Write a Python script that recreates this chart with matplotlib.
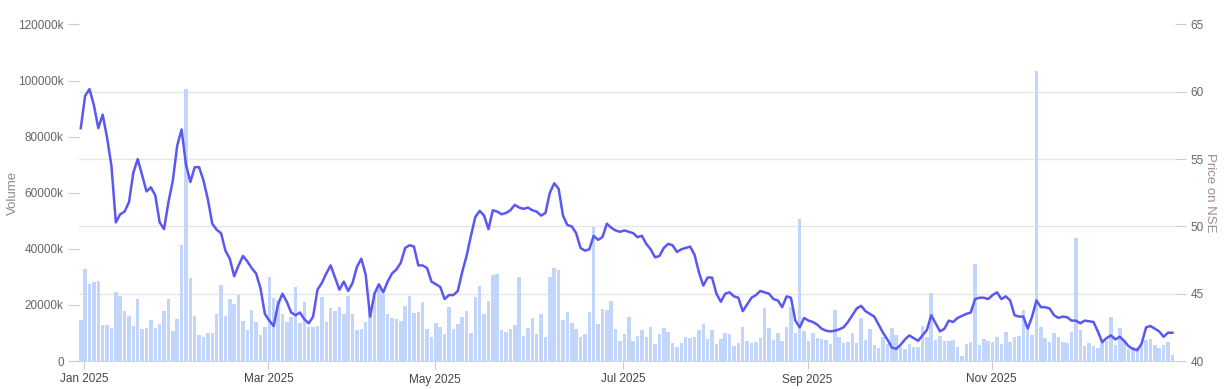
import matplotlib
matplotlib.use("Agg")
import matplotlib.pyplot as plt
import numpy as np

plt.rcParams['font.family'] = ['Liberation Sans', 'DejaVu Sans']

# daily volume in thousands (30 Dec 2024 .. 31 Dec 2025, NSE trading days)
volume_k = [
    14600, 32760, 27420, 28250, 28610, 12940, 12820, 11750, 24570, 23030,
    17690, 16020, 12580, 21960, 11280, 11750, 14480, 11750, 13180, 17800,
    22200, 10800, 14840, 41300, 96860, 29560, 15900, 9380, 8430, 9850,
    9850, 16740, 27060, 16140, 22200, 20180, 23500, 14360, 11040, 18040,
    13770, 9260, 11990, 29910, 22430, 21600, 16620, 13890, 15550, 26350,
    13410, 20890, 11990, 12110, 12460, 22670, 14010, 18750, 17690, 19230,
    16620, 23030, 16740, 11040, 11400, 13890, 17920, 24450, 27000, 23800,
    16740, 15190, 14960, 14240, 19700, 23300, 17090, 17450, 21200, 11570,
    8720, 13530, 12170, 9610, 19350, 11400, 13290, 15790, 17800, 9970,
    22790, 26710, 16740, 21480, 30510, 30980, 11040, 10330, 11510, 12820,
    29910, 8900, 11630, 15310, 9500, 16740, 8670, 30030, 33120, 32410,
    14720, 17330, 13410, 11510, 8430, 9610, 17330, 47700, 13290, 18520,
    18040, 21370, 11400, 7120, 9610, 15790, 7000, 8780, 10920, 8430,
    12110, 5940, 9730, 11630, 10210, 6410, 4990, 6410, 8670, 8070,
    8670, 11040, 13180, 7950, 11040, 6050, 7950, 10090, 9500, 5340,
    6410, 11990, 7120, 6530, 6770, 8190, 18990, 11630, 7360, 9970,
    7000, 11990, 19350, 9970, 50800, 10680, 7120, 10090, 8070, 7720,
    7360, 6050, 18160, 8430, 6530, 6770, 9970, 6410, 15430, 7360,
    11400, 5820, 4630, 8430, 6170, 11750, 9140, 5100, 4150, 6050,
    5100, 4990, 12460, 8670, 24100, 7480, 8780, 7120, 7120, 7360,
    4990, 1780, 6170, 6650, 34540, 5820, 7830, 7000, 6880, 8670,
    5940, 10210, 6770, 8550, 8900, 18160, 10920, 9260, 103300, 11990,
    8190, 6770, 9970, 8550, 6650, 6410, 10330, 44040, 11040, 5460,
    6410, 5460, 4630, 7240, 7120, 15790, 5700, 11750, 7240, 4270,
    4870, 4990, 6410, 7360, 7830, 5580, 4630, 5580, 6770, 2140,
]

# closing price on NSE
price = [
    57.3, 59.7, 60.2, 59.0, 57.3, 58.3, 56.6, 54.5, 50.3, 50.9,
    51.1, 51.8, 54.0, 55.0, 53.8, 52.6, 52.9, 52.3, 50.3, 49.8,
    51.8, 53.4, 56.0, 57.2, 54.6, 53.3, 54.4, 54.4, 53.4, 52.0,
    50.2, 49.75, 49.5, 48.2, 47.6, 46.3, 47.1, 47.8, 47.4, 46.9,
    46.5, 45.4, 43.5, 43.0, 42.6, 44.2, 45.0, 44.4, 43.6, 43.4,
    43.6, 43.1, 42.8, 43.3, 45.3, 45.8, 46.5, 47.1, 46.2, 45.3,
    45.9, 45.2, 45.8, 47.0, 47.6, 46.4, 43.3, 45.0, 45.7, 45.1,
    45.9, 46.5, 46.8, 47.3, 48.4, 48.6, 48.5, 47.1, 47.1, 46.9,
    45.9, 45.7, 45.5, 44.6, 44.9, 44.9, 45.2, 46.6, 47.8, 49.3,
    50.7, 51.15, 50.8, 49.8, 51.2, 51.1, 50.9, 51.0, 51.2, 51.6,
    51.4, 51.3, 51.4, 51.2, 51.1, 50.8, 51.0, 52.5, 53.2, 52.8,
    50.8, 50.1, 50.0, 49.5, 48.4, 48.2, 48.3, 49.3, 49.0, 49.2,
    50.2, 49.9, 49.7, 49.6, 49.7, 49.6, 49.5, 49.2, 49.3, 48.7,
    48.3, 47.7, 47.8, 48.4, 48.7, 48.6, 48.1, 48.3, 48.4, 48.5,
    47.9, 46.6, 45.6, 46.2, 46.2, 45.0, 44.4, 45.0, 45.1, 44.8,
    44.7, 43.7, 44.2, 44.7, 44.9, 45.2, 45.1, 45.0, 44.6, 44.5,
    44.0, 44.8, 44.7, 43.0, 42.5, 43.2, 43.0, 42.9, 42.7, 42.4,
    42.25, 42.2, 42.25, 42.35, 42.5, 42.9, 43.4, 43.9, 44.1, 43.7,
    43.5, 43.3, 42.7, 42.1, 41.6, 41.0, 40.9, 41.2, 41.6, 41.9,
    41.7, 41.5, 41.9, 42.3, 43.4, 42.8, 42.2, 42.4, 43.0, 42.9,
    43.2, 43.35, 43.5, 43.6, 44.6, 44.7, 44.7, 44.6, 44.9, 45.1,
    44.6, 44.8, 44.5, 43.4, 43.3, 43.3, 42.4, 43.3, 44.5, 44.0,
    44.0, 43.9, 43.4, 43.2, 43.3, 43.25, 43.0, 43.0, 42.8, 43.0,
    42.95, 42.9, 42.2, 41.4, 41.7, 41.9, 41.6, 41.8, 41.5, 41.1,
    40.9, 40.8, 41.3, 42.5, 42.6, 42.4, 42.2, 41.8, 42.1, 42.1,
]

month_labels = ["Jan 2025", "Mar 2025", "May 2025", "Jul 2025", "Sep 2025", "Nov 2025"]
month_first_idx = [1, 43, 81, 124, 166, 208]

vol_ticks = [0, 20000, 40000, 60000, 80000, 100000, 120000]
price_ticks = [40, 45, 50, 55, 60, 65]

x = np.arange(len(volume_k))

fig = plt.figure(figsize=(12.25, 3.89), dpi=100)
ax = fig.add_axes([79 / 1225, 28 / 389, 1096 / 1225, 336.5 / 389])
ax2 = ax.twinx()

grid_col = "#e6e6e6"
tick_col = "#666666"

# volume bars
ax.bar(x, volume_k, width=0.8, color="#c2d6fb", zorder=2)
ax.set_ylim(0, 120000)
ax.set_xlim(-0.4, len(x) - 0.4)
ax.set_yticks(vol_ticks)
ax.set_yticklabels(["0"] + [f"{v}k" for v in vol_ticks[1:]])
# horizontal grid follows the price axis
ax.set_yticks([(p - 40) / 25 * 120000 for p in price_ticks], minor=True)
ax.grid(which="minor", axis="y", color=grid_col, linewidth=1, zorder=0)
ax.tick_params(axis="y", which="minor", length=0)
ax.tick_params(axis="y", which="major", length=8, color="#cccccc",
               labelsize=8.5, labelcolor=tick_col, pad=3)
ax.set_axisbelow(True)

ax.set_xticks([i - 0.2 for i in month_first_idx])
ax.set_xticklabels(month_labels)
ax.tick_params(axis="x", length=6, color="#cccccc", labelsize=8.5,
               labelcolor="#444444", pad=3)

for s in ["top", "left", "right"]:
    ax.spines[s].set_visible(False)
    ax2.spines[s].set_visible(False)
ax.spines["bottom"].set_color("#ccd6eb")
ax2.spines["bottom"].set_visible(False)

ax.set_ylabel("Volume", color="#8a8a8a", fontsize=9.5)
ax.yaxis.set_label_coords(-0.0547, 0.5)

# price line
ax2.plot(x, price, color="#5b57f2", linewidth=1.8, zorder=3,
         solid_joinstyle="round")
ax2.set_ylim(40, 65)
ax2.set_yticks(price_ticks)
ax2.tick_params(axis="y", length=8, color="#cccccc", labelsize=8.5,
                labelcolor=tick_col, pad=3)
ax2.set_ylabel("Price on NSE", color="#a08c8c", fontsize=9.5, rotation=270,
               va="center")
ax2.yaxis.set_label_coords(1.0315, 0.5)

fig.savefig("out.png", dpi=100)
